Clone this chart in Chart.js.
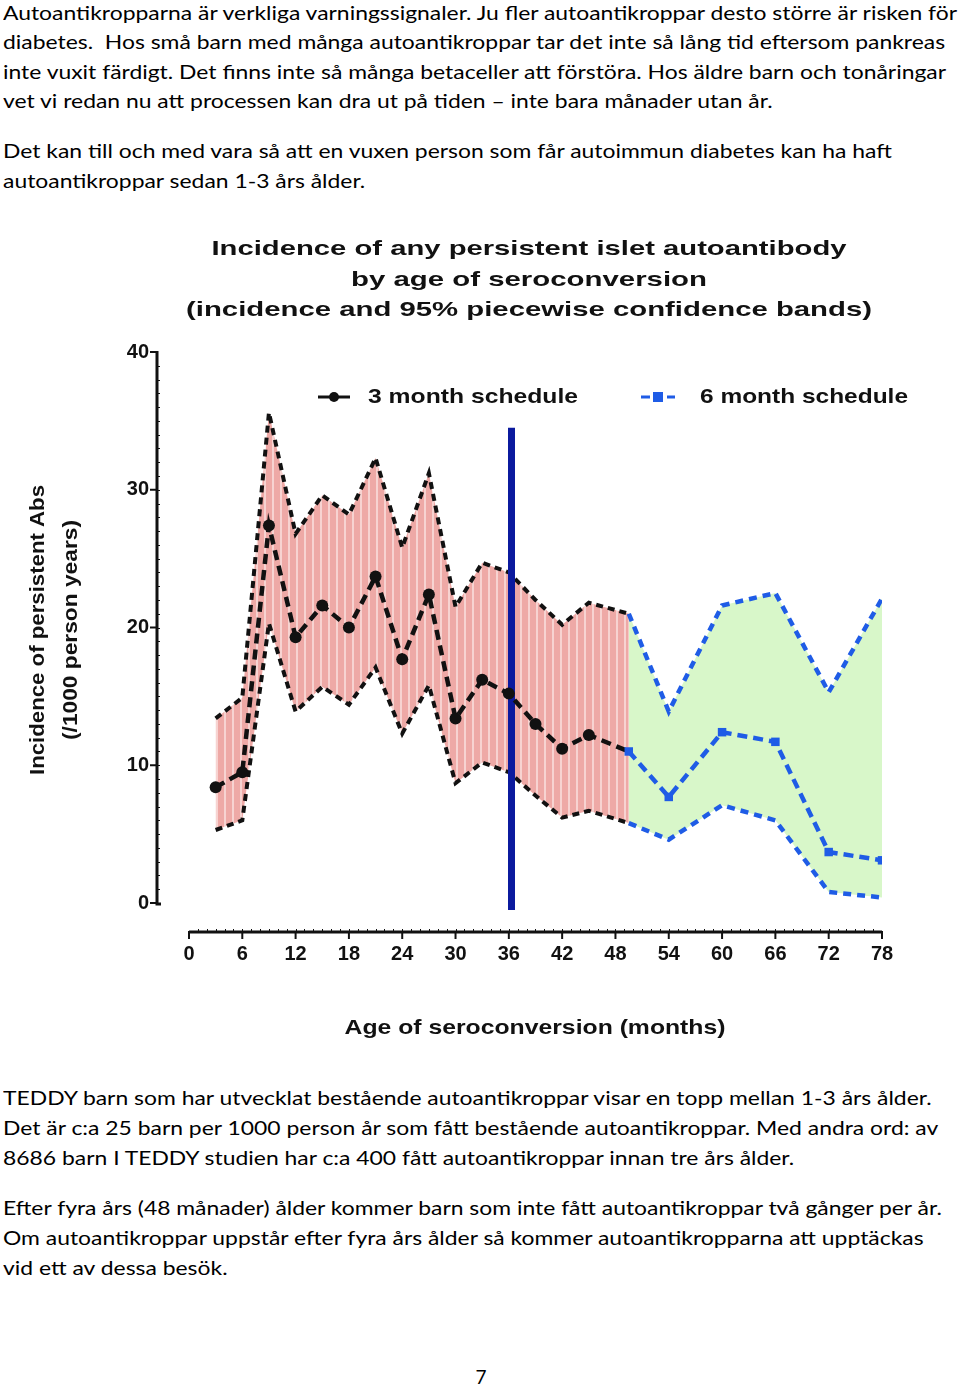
<!DOCTYPE html>
<html lang="sv">
<head>
<meta charset="utf-8">
<script src="https://cdn.jsdelivr.net/npm/chart.js@4/dist/chart.umd.min.js"></script>
<style>
  body { margin: 0; width: 960px; height: 1385px; background: #fff; position: relative; overflow: hidden;
         font-family: Lato, "Liberation Sans", sans-serif; color: #000; }
  .line { position: absolute; left: 3px; white-space: pre; font-size: 20px; line-height: 24px; transform-origin: 0 50%; }
  #chartBox { position: absolute; left: 0; top: 200px; width: 960px; height: 860px; }
  #pageNo { position: absolute; left: 0; width: 962px; top: 1365px; text-align: center; font-size: 19px; line-height: 24px; }
</style>
</head>
<body>
<div class="line" style="top:0px">Autoantikropparna är verkliga varningssignaler. Ju fler autoantikroppar desto större är risken för</div>
<div class="line" style="top:29px">diabetes.  Hos små barn med många autoantikroppar tar det inte så lång tid eftersom pankreas</div>
<div class="line" style="top:59px">inte vuxit färdigt. Det finns inte så många betaceller att förstöra. Hos äldre barn och tonåringar</div>
<div class="line" style="top:88px">vet vi redan nu att processen kan dra ut på tiden – inte bara månader utan år.</div>
<div class="line" style="top:138px">Det kan till och med vara så att en vuxen person som får autoimmun diabetes kan ha haft</div>
<div class="line" style="top:168px">autoantikroppar sedan 1-3 års ålder.</div>

<div id="chartBox"><canvas id="chart" width="960" height="860"></canvas></div>

<div class="line" style="top:1085px">TEDDY barn som har utvecklat bestående autoantikroppar visar en topp mellan 1-3 års ålder.</div>
<div class="line" style="top:1115px">Det är c:a 25 barn per 1000 person år som fått bestående autoantikroppar. Med andra ord: av</div>
<div class="line" style="top:1145px">8686 barn I TEDDY studien har c:a 400 fått autoantikroppar innan tre års ålder.</div>
<div class="line" style="top:1195px">Efter fyra års (48 månader) ålder kommer barn som inte fått autoantikroppar två gånger per år.</div>
<div class="line" style="top:1225px">Om autoantikroppar uppstår efter fyra års ålder så kommer autoantikropparna att upptäckas</div>
<div class="line" style="top:1255px">vid ett av dessa besök.</div>
<div id="pageNo">7</div>

<script>
// Data (months / incidence per 1000 person years)
const months3 = [3, 6, 9, 12, 15, 18, 21, 24, 27, 30, 33, 36, 39, 42, 45, 49.5];
const incidence3 = [8.4, 9.5, 27.4, 19.3, 21.6, 20.0, 23.7, 17.7, 22.4, 13.4, 16.2, 15.2, 13.0, 11.2, 12.2, 11.0];
const upper3 = [13.4, 14.9, 35.6, 26.8, 29.6, 28.2, 32.3, 25.8, 31.2, 21.5, 24.7, 24.0, 22.0, 20.2, 21.8, 21.0];
const lower3 = [5.3, 6.0, 20.3, 13.9, 15.7, 14.4, 17.1, 12.3, 15.8, 8.7, 10.2, 9.5, 7.8, 6.2, 6.7, 5.8];

const months6 = [49.5, 54, 60, 66, 72, 78];
const incidence6 = [11.0, 7.7, 12.4, 11.7, 3.7, 3.1];
const upper6 = [21.0, 13.9, 21.6, 22.5, 15.3, 22.1];
const lower6 = [5.8, 4.6, 7.1, 6.0, 0.8, 0.4];

// the vertical marker at 3 years
const markerMonth = 36.3;
const markerSpan = [-0.5, 34.5];

const xTicks = [0, 6, 12, 18, 24, 30, 36, 42, 48, 54, 60, 66, 72, 78];
const yTicks = [0, 10, 20, 30, 40];

const titleLines = [
  'Incidence of any persistent islet autoantibody',
  'by age of seroconversion',
  '(incidence and 95% piecewise confidence bands)'
];
const seriesNames = ['3 month schedule', '6 month schedule'];
const xTitle = 'Age of seroconversion (months)';
const yTitle = ['Incidence of persistent Abs', '(/1000 person years)'];

const BLACK = '#111111';
const BLUE = '#1f5ce6';
const NAVY = '#0b1a9e';
const CHART_FONT = '"Liberation Sans", Arial, sans-serif';

// stretch body text so the first line fills the page width like the original
(function fitBody() {
  const lines = document.querySelectorAll('.line');
  const w = lines[0].getBoundingClientRect().width;
  const k = 954 / w;
  lines.forEach(l => { l.style.transform = 'scaleX(' + k + ')'; });
})();

function toPoints(xs, ys) {
  return xs.map((x, i) => ({ x: x, y: ys[i] }));
}

function stripePattern(ctx) {
  const c = document.createElement('canvas');
  c.width = 8; c.height = 8;
  const g = c.getContext('2d');
  g.fillStyle = '#eea9a6';
  g.fillRect(0, 0, 8, 8);
  g.fillStyle = '#f7d3d1';
  g.fillRect(0, 0, 2, 8);
  return ctx.createPattern(c, 'repeat');
}

// draws text squeezed / stretched to a given width, centred on (cx, cy)
function fitText(ctx, text, cx, cy, width, font, rotate) {
  ctx.save();
  ctx.font = font;
  const w = ctx.measureText(text).width;
  ctx.translate(cx, cy);
  if (rotate) ctx.rotate(-Math.PI / 2);
  ctx.scale(width / w, 1);
  ctx.textAlign = 'center';
  ctx.textBaseline = 'middle';
  ctx.fillStyle = BLACK;
  ctx.fillText(text, 0, 0);
  ctx.restore();
}

const decorations = {
  id: 'decorations',
  afterDraw(chart) {
    const ctx = chart.ctx;
    const xs = chart.scales.x;
    const ys = chart.scales.y;
    const bold = 'bold 21px ' + CHART_FONT;

    // titles
    fitText(ctx, titleLines[0], 529, 49, 635, bold);
    fitText(ctx, titleLines[1], 529, 80, 356, bold);
    fitText(ctx, titleLines[2], 529, 110, 686, bold);

    // legend
    ctx.save();
    ctx.lineWidth = 3;
    ctx.strokeStyle = BLACK;
    ctx.beginPath(); ctx.moveTo(318, 197); ctx.lineTo(350, 197); ctx.stroke();
    ctx.fillStyle = BLACK;
    ctx.beginPath(); ctx.arc(334, 197, 5, 0, Math.PI * 2); ctx.fill();
    ctx.strokeStyle = BLUE;
    ctx.setLineDash([9, 4]);
    ctx.beginPath(); ctx.moveTo(641, 197); ctx.lineTo(675, 197); ctx.stroke();
    ctx.fillStyle = BLUE;
    ctx.fillRect(653, 192, 10, 10);
    ctx.restore();
    fitText(ctx, seriesNames[0], 368 + 105, 197, 210, bold);
    fitText(ctx, seriesNames[1], 700 + 104, 197, 208, bold);

    // axis titles
    fitText(ctx, xTitle, 535, 828, 381, bold);
    fitText(ctx, yTitle[0], 38, 430, 290, bold, true);
    fitText(ctx, yTitle[1], 71, 430, 220, bold, true);

    // prism style axes
    ctx.save();
    ctx.strokeStyle = BLACK;
    ctx.fillStyle = BLACK;
    const yx = chart.chartArea.left;
    const y0 = ys.getPixelForValue(0);
    const y40 = ys.getPixelForValue(40);
    ctx.lineWidth = 3;
    ctx.beginPath(); ctx.moveTo(yx, y40 - 1); ctx.lineTo(yx, y0 + 1); ctx.lineTo(yx + 4, y0 + 1); ctx.stroke();
    ctx.lineWidth = 2;
    yTicks.forEach(v => {
      const p = ys.getPixelForValue(v);
      ctx.beginPath(); ctx.moveTo(yx - 7, p); ctx.lineTo(yx, p); ctx.stroke();
    });
    ctx.lineWidth = 1;
    for (let v = 1; v < 40; v++) {
      const p = Math.round(ys.getPixelForValue(v)) + 0.5;
      ctx.beginPath(); ctx.moveTo(yx, p); ctx.lineTo(yx + 3, p); ctx.stroke();
    }

    const xy = chart.chartArea.bottom;
    const x0 = xs.getPixelForValue(0);
    const x78 = xs.getPixelForValue(78);
    ctx.lineWidth = 3;
    ctx.beginPath(); ctx.moveTo(x0, xy); ctx.lineTo(x78, xy); ctx.stroke();
    ctx.lineWidth = 2;
    xTicks.forEach(v => {
      const p = xs.getPixelForValue(v);
      ctx.beginPath(); ctx.moveTo(p, xy - 1); ctx.lineTo(p, xy + 7); ctx.stroke();
    });
    ctx.lineWidth = 1;
    for (let v = 1; v < 78; v++) {
      const p = Math.round(xs.getPixelForValue(v)) + 0.5;
      ctx.beginPath(); ctx.moveTo(p, xy); ctx.lineTo(p, xy - 3); ctx.stroke();
    }
    ctx.restore();
  }
};

const ctx = document.getElementById('chart').getContext('2d');
const pinkFill = stripePattern(ctx);

new Chart(ctx, {
  type: 'line',
  data: {
    datasets: [
      {
        label: 'upper 3',
        data: toPoints(months3, upper3),
        borderColor: BLACK, borderWidth: 4, borderDash: [7, 5],
        pointRadius: 0, fill: '+1', backgroundColor: pinkFill, order: 5
      },
      {
        label: 'lower 3',
        data: toPoints(months3, lower3),
        borderColor: BLACK, borderWidth: 4, borderDash: [7, 5],
        pointRadius: 0, fill: false, order: 4
      },
      {
        label: 'upper 6',
        data: toPoints(months6, upper6),
        borderColor: BLUE, borderWidth: 4.5, borderDash: [8, 6],
        pointRadius: 0, fill: '+1', backgroundColor: '#d8f7c9', order: 5
      },
      {
        label: 'lower 6',
        data: toPoints(months6, lower6),
        borderColor: BLUE, borderWidth: 4.5, borderDash: [8, 6],
        pointRadius: 0, fill: false, order: 4
      },
      {
        label: 'marker',
        data: [{ x: markerMonth, y: markerSpan[0] }, { x: markerMonth, y: markerSpan[1] }],
        borderColor: NAVY, borderWidth: 7, borderCapStyle: 'butt',
        pointRadius: 0, fill: false, order: 3
      },
      {
        label: seriesNames[0],
        data: toPoints(months3, incidence3),
        borderColor: BLACK, borderWidth: 4.5, borderDash: [10, 6],
        pointRadius: months3.map((m, i) => i === months3.length - 1 ? 0 : 6),
        pointBackgroundColor: BLACK, pointBorderWidth: 0,
        fill: false, order: 1
      },
      {
        label: seriesNames[1],
        data: toPoints(months6, incidence6),
        borderColor: BLUE, borderWidth: 4.5, borderDash: [10, 6],
        pointStyle: 'rect', pointRadius: 6,
        pointBackgroundColor: BLUE, pointBorderWidth: 0,
        fill: false, order: 0
      }
    ]
  },
  options: {
    responsive: false,
    animation: false,
    layout: { padding: { top: 152, right: 78, bottom: 0, left: 0 } },
    plugins: {
      legend: { display: false },
      tooltip: { enabled: false },
      filler: { drawTime: 'beforeDatasetsDraw' }
    },
    elements: { line: { tension: 0 } },
    scales: {
      x: {
        type: 'linear', min: -3.6, max: 78,
        grid: { display: false, drawTicks: false },
        border: { display: false },
        afterBuildTicks: s => { s.ticks = xTicks.map(v => ({ value: v })); },
        afterFit: s => { s.height = 128; },
        ticks: {
          padding: 10, autoSkip: false, maxRotation: 0, color: BLACK,
          font: { family: CHART_FONT, weight: 'bold', size: 20 }
        }
      },
      y: {
        type: 'linear', min: -2.105, max: 40,
        grid: { display: false, drawTicks: false },
        border: { display: false },
        afterBuildTicks: s => { s.ticks = yTicks.map(v => ({ value: v })); },
        afterFit: s => { s.width = 157; },
        ticks: {
          padding: 8, color: BLACK,
          font: { family: CHART_FONT, weight: 'bold', size: 20 }
        }
      }
    }
  },
  plugins: [decorations]
});
</script>
</body>
</html>
